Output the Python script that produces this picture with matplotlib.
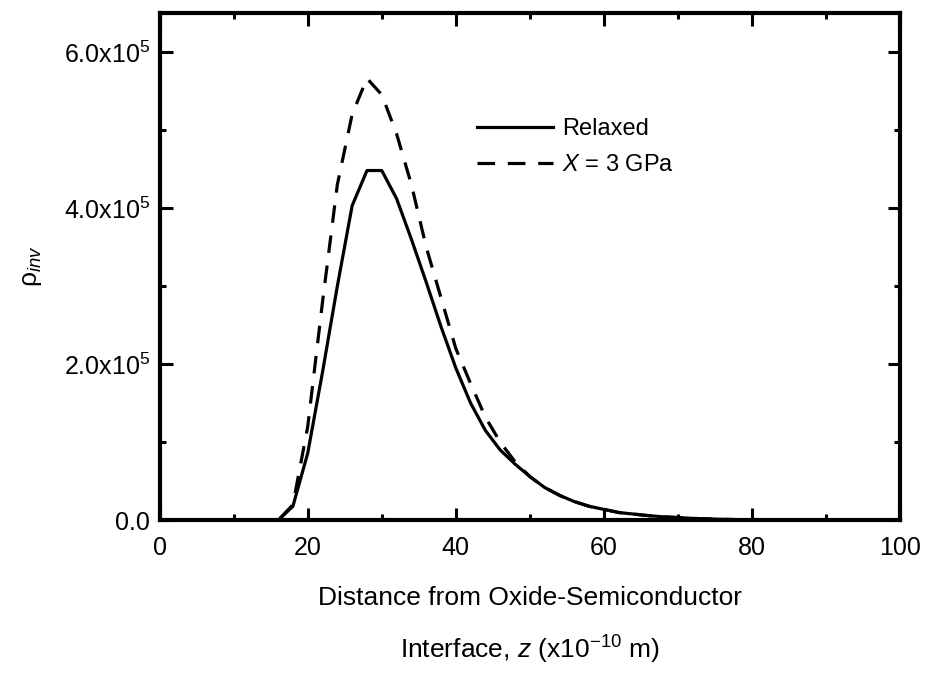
import matplotlib
matplotlib.use('Agg')
import matplotlib.pyplot as plt
from matplotlib.ticker import MultipleLocator, FuncFormatter

plt.rcParams['font.family'] = ['Liberation Sans', 'DejaVu Sans']
plt.rcParams['mathtext.fontset'] = 'custom'
plt.rcParams['mathtext.rm'] = 'Liberation Sans'
plt.rcParams['mathtext.it'] = 'Liberation Sans:italic'

# distance from interface (x1e-10 m)
z = [0, 2, 4, 6, 8, 10, 12, 14, 16, 18, 20, 22, 24, 26, 28, 30, 32, 34, 36, 38, 40,
     42, 44, 46, 48, 50, 52, 54, 56, 58, 60, 62, 64, 66, 68, 70, 72, 74, 76, 78, 80,
     85, 90, 95, 100]

relaxed = [0, 0, 0, 0, 0, 0, 0, 0, 0, 0.18e5, 0.86e5, 1.9e5, 3.0e5, 4.03e5, 4.48e5, 4.48e5,
           4.12e5, 3.6e5, 3.05e5, 2.48e5, 1.95e5, 1.5e5, 1.15e5, 0.9e5, 0.72e5, 0.56e5,
           0.42e5, 0.32e5, 0.24e5, 0.18e5, 0.14e5, 0.1e5, 0.08e5, 0.06e5, 0.045e5,
           0.035e5, 0.025e5, 0.018e5, 0.013e5, 0.009e5, 0.006e5, 0.002e5, 0.001e5, 0, 0]

stressed = [0, 0, 0, 0, 0, 0, 0, 0, 0, 0.2e5, 1.2e5, 2.8e5, 4.3e5, 5.2e5, 5.66e5, 5.45e5,
            4.95e5, 4.3e5, 3.5e5, 2.85e5, 2.2e5, 1.75e5, 1.32e5, 1.0e5, 0.75e5, 0.56e5,
            0.42e5, 0.32e5, 0.24e5, 0.18e5, 0.14e5, 0.1e5, 0.08e5, 0.06e5, 0.045e5,
            0.035e5, 0.025e5, 0.018e5, 0.013e5, 0.009e5, 0.006e5, 0.002e5, 0.001e5, 0, 0]

fig = plt.figure(figsize=(9.28, 6.74), dpi=100)
ax = fig.add_axes([0.172, 0.228, 0.798, 0.753])

ax.plot(z, relaxed, color='black', lw=2.3, label='Relaxed')
ax.plot(z, stressed, color='black', lw=2.3, dashes=(5.5, 4), label=r'$\mathit{X}$ = 3 GPa')

ax.set_xlim(0, 100)
ax.set_ylim(0, 6.5e5)
ax.xaxis.set_major_locator(MultipleLocator(20))
ax.xaxis.set_minor_locator(MultipleLocator(10))
ax.yaxis.set_major_locator(MultipleLocator(2e5))
ax.yaxis.set_minor_locator(MultipleLocator(1e5))

def ylab(v, pos):
    if v == 0:
        return '0.0'
    return r'$\mathregular{%.1fx10^{5}}$' % (v / 1e5)

ax.yaxis.set_major_formatter(FuncFormatter(ylab))

for s in ax.spines.values():
    s.set_linewidth(3)
ax.tick_params(which='both', direction='in', top=True, right=True, width=2.2)
ax.tick_params(which='major', length=9)
ax.tick_params(which='minor', length=4.5)
ax.tick_params(axis='x', labelsize=18, pad=11)
ax.tick_params(axis='y', labelsize=18, pad=7)

ax.set_xlabel('Distance from Oxide-Semiconductor\nInterface, $\\mathit{z}$ (x10$^{-10}$ m)',
              fontsize=19, linespacing=1.95, labelpad=19)
ax.set_ylabel(r'$\mathrm{\rho}_{\mathit{inv}}$', fontsize=19, labelpad=14)

ax.legend(loc='upper left', bbox_to_anchor=(0.4, 0.835), frameon=False, fontsize=17,
          handlelength=3.2, handletextpad=0.4, labelspacing=0.6)

fig.savefig('out.png', dpi=100)
